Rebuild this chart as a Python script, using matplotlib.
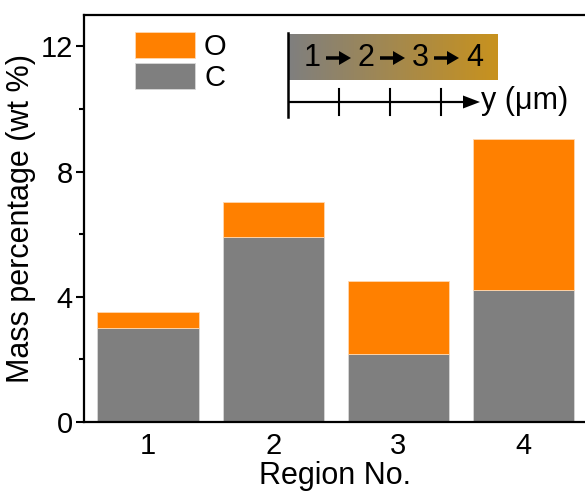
import numpy as np
import matplotlib
matplotlib.use("Agg")
import matplotlib.pyplot as plt
from matplotlib.patches import FancyArrow
from matplotlib.colors import LinearSegmentedColormap
from matplotlib.ticker import MultipleLocator

plt.rcParams['font.family'] = ['Liberation Sans', 'DejaVu Sans']

regions = [1, 2, 3, 4]
carbon = [3.0, 5.9, 2.17, 4.21]
oxygen_total = [3.51, 7.02, 4.5, 9.03]
oxygen = [t - c for t, c in zip(oxygen_total, carbon)]

W, H = 585, 491
fig = plt.figure(figsize=(W / 100, H / 100), dpi=100)
ax = fig.add_axes([84 / W, 69 / H, 1 - 84 / W + 0.002, (422 - 15) / H])

gray = '#7f7f7f'
orange = '#ff8000'
bc = ax.bar(regions, carbon, width=0.81, color=gray, edgecolor='#d8d8d8', linewidth=0.6, label='C')
bo = ax.bar(regions, oxygen, bottom=carbon, width=0.81, color=orange, edgecolor='#ffd8b0',
            linewidth=0.6, label='O')

ax.set_xlim(0.488, 4.5)
ax.set_ylim(0, 13)
ax.set_xticks(regions)
ax.yaxis.set_major_locator(MultipleLocator(4))
ax.yaxis.set_minor_locator(MultipleLocator(2))
ax.tick_params(axis='x', length=0, pad=7, labelsize=21)
ax.tick_params(axis='y', which='major', length=6, width=1.5, pad=2, labelsize=21)
ax.tick_params(axis='y', which='minor', length=3.5, width=1.5)
for s in ('left', 'bottom', 'top'):
    ax.spines[s].set_linewidth(1.6)
ax.spines['right'].set_visible(False)
ax.set_xlabel('Region No.', fontsize=22, labelpad=1)
ax.set_ylabel('Mass percentage (wt %)', fontsize=22, labelpad=3)

ax.legend(handles=[bo, bc], labels=['O', 'C'], loc='upper left',
          bbox_to_anchor=(0.102, 0.958), frameon=False, fontsize=21,
          handlelength=2.06, handleheight=1.0, labelspacing=0.06,
          handletextpad=0.3, borderpad=0, borderaxespad=0)

# Overlay in pixel coordinates for the position schematic
ov = fig.add_axes([0, 0, 1, 1], facecolor='none')
ov.set_xlim(0, W)
ov.set_ylim(H, 0)
ov.axis('off')

cmap = LinearSegmentedColormap.from_list('grad', ['#7f7f7f', '#c8921e'])
grad = np.linspace(0, 1, 256).reshape(1, -1)
ov.imshow(grad, cmap=cmap, extent=(288, 498, 80, 34), aspect='auto', zorder=1)

steps = ['1', '2', '3', '4']
step_x = [312, 366, 420, 475]
for s, x in zip(steps, step_x):
    ov.text(x, 58, s, fontsize=22, ha='center', va='center', zorder=3)
for x0 in step_x[:-1]:
    ov.add_patch(FancyArrow(x0 + 14, 58, 25, 0, width=3.5, head_width=14, head_length=12,
                            length_includes_head=True, color='black', lw=0, zorder=3))

ov.plot([288, 288], [33, 117], color='black', lw=1.8, zorder=3)
ov.add_patch(FancyArrow(288, 102, 192, 0, width=2.2, head_width=13, head_length=17,
                        length_includes_head=True, color='black', lw=0, zorder=3))
for x in [339, 390, 441]:
    ov.plot([x, x], [89, 115], color='black', lw=1.5, zorder=3)
ov.text(481, 101, 'y (μm)', fontsize=22, ha='left', va='center', zorder=3)

fig.savefig('out.png', dpi=100)
